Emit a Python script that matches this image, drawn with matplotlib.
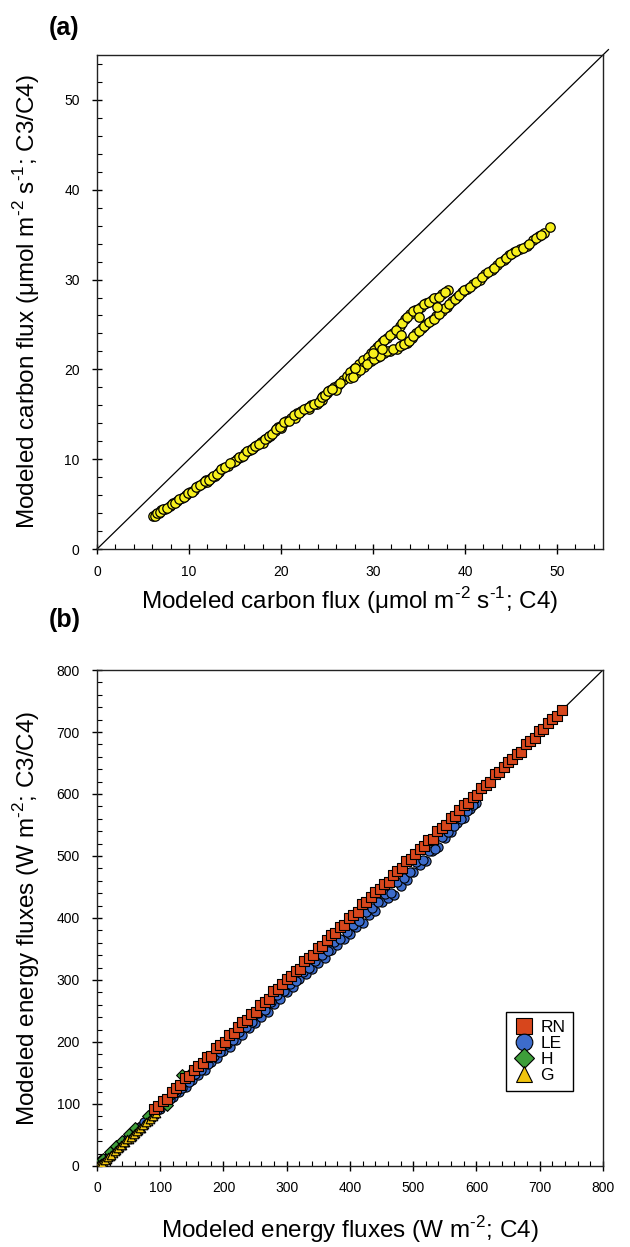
import matplotlib
matplotlib.use("Agg")
import matplotlib.pyplot as plt
from matplotlib.ticker import MultipleLocator
from matplotlib.lines import Line2D

plt.rcParams["font.family"] = ["Liberation Sans", "DejaVu Sans"]
plt.rcParams["mathtext.fontset"] = "custom"
plt.rcParams["mathtext.rm"] = "Liberation Sans"

# (a) modeled carbon flux, C4 vs C3/C4
carbon_c4 = [6.1, 6.4, 6.7, 7.0, 7.4, 7.9, 8.3, 8.7, 9.2, 9.7, 10.1, 10.5, 11.0, 11.5,
             11.9, 12.4, 12.8, 13.3, 13.7, 14.2, 14.8, 15.2, 15.7, 16.1, 16.6, 17.0,
             17.4, 17.8, 18.1, 18.5, 18.8, 19.3, 19.7, 20.1, 20.6, 21.1, 21.7, 22.2,
             22.8, 23.3, 23.9, 24.3, 24.6, 25.0, 25.3, 25.8, 26.2, 26.7,
             12.0, 15.0, 18.0, 20.0, 21.5, 23.0, 24.5, 26.0,
             6.25, 6.55, 6.85, 7.2, 7.65, 8.1, 8.5, 8.95, 9.45, 9.9, 10.3, 10.75,
             11.25, 11.7, 12.15, 12.6, 13.05, 13.5, 13.95, 14.5, 15.45, 15.9, 16.35,
             16.8, 17.2, 17.6, 18.3, 18.65, 19.05, 19.5, 19.9, 20.35, 20.85, 21.4,
             21.95, 22.5, 23.05, 23.6, 24.1, 24.45, 24.8, 25.15, 25.55, 26.45,
             27.2, 27.8, 28.5, 29.3, 29.8, 30.4, 31.0, 31.5, 32.2, 32.9, 33.5, 34.0,
             34.6, 35.2, 35.8, 36.4, 36.9, 37.5, 38.2,
             27.5, 28.1, 28.9, 29.5, 30.1, 30.7, 31.2, 31.8, 32.5, 33.2, 33.7, 34.3,
             34.9, 35.5, 36.1, 36.6, 37.2, 37.8,
             27.5, 28.2, 29.0, 29.8, 30.5, 31.2, 31.9, 32.6, 33.2, 33.7, 34.2, 34.7,
             35.3, 35.8, 36.4, 36.9, 37.5, 38.0, 38.6, 39.1, 39.7, 40.2, 40.9, 41.6,
             42.2, 42.9, 43.5, 44.2, 44.8, 45.3, 46.0, 46.7, 47.4, 48.0, 48.6, 49.2,
             27.8, 28.6, 29.4, 30.1, 30.8, 31.5, 32.2, 32.9, 33.4, 33.9, 34.4, 35.0,
             35.5, 36.1, 36.6, 37.2, 37.8, 38.3, 38.9, 39.4, 39.9, 40.5, 41.2, 41.9,
             42.5, 43.2, 43.8, 44.5, 45.0, 45.6, 46.3, 47.0, 47.7, 48.3,
             31.0, 33.0, 35.0, 37.0, 30.0, 28.0]
carbon_c3c4 = [3.7, 3.9, 4.0, 4.3, 4.5, 4.8, 5.1, 5.3, 5.7, 6.0, 6.3, 6.6, 7.0, 7.3,
               7.7, 7.9, 8.1, 8.6, 9.0, 9.3, 9.7, 10.0, 10.3, 10.7, 11.0, 11.3,
               11.6, 11.9, 12.1, 12.4, 12.6, 13.1, 13.6, 13.8, 14.2, 14.6, 15.1, 15.4,
               15.7, 16.0, 16.2, 16.7, 17.0, 17.4, 17.7, 18.0, 18.3, 18.8,
               7.5, 9.8, 11.8, 13.5, 14.6, 15.6, 16.6, 17.7,
               3.7, 4.0, 4.1, 4.5, 4.6, 5.0, 5.1, 5.6, 5.8, 6.2, 6.4, 6.9,
               7.1, 7.6, 7.7, 8.1, 8.3, 8.9, 9.1, 9.6, 10.2, 10.4, 10.9,
               11.1, 11.5, 11.7, 12.2, 12.6, 12.8, 13.4, 13.6, 14.1, 14.3, 14.9,
               15.2, 15.6, 15.8, 16.2, 16.4, 16.9, 17.1, 17.6, 17.8, 18.5,
               19.3, 19.9, 20.6, 21.2, 21.8, 22.5, 23.0, 23.5, 24.1, 24.8, 25.6, 26.2,
               26.6, 27.0, 27.4, 27.7, 27.9, 28.4, 28.8,
               19.7, 20.2, 21.0, 21.4, 22.2, 22.7, 23.3, 23.8, 24.4, 25.2, 25.8, 26.5,
               26.7, 27.3, 27.5, 27.9, 28.1, 28.6,
               19.0, 19.6, 20.3, 20.9, 21.4, 21.8, 22.1, 22.3, 22.7, 22.9, 23.5, 24.0,
               24.6, 25.1, 25.5, 25.9, 26.5, 27.0, 27.6, 28.1, 28.6, 29.0, 29.5, 30.0,
               30.6, 31.1, 31.6, 32.2, 32.7, 33.1, 33.4, 33.7, 34.4, 34.8, 35.2, 35.9,
               19.2, 19.9, 20.6, 21.2, 21.5, 22.0, 22.3, 22.6, 22.8, 23.2, 23.7, 24.3,
               24.8, 25.3, 25.6, 26.2, 26.8, 27.3, 27.8, 28.3, 28.8, 29.2, 29.7, 30.3,
               30.8, 31.3, 31.9, 32.4, 32.9, 33.2, 33.5, 34.0, 34.6, 35.0,
               22.3, 23.8, 25.8, 27.0, 21.8, 20.2]

# (b) modeled energy fluxes
rn_c4 = [90, 97, 104, 111, 118, 125, 132, 139, 146, 153, 160, 167, 174, 181, 188, 195,
         202, 209, 216, 223, 230, 237, 244, 251, 258, 265, 272, 279, 286, 293, 300,
         307, 314, 321, 328, 335, 342, 349, 356, 363, 370, 377, 384, 391, 398, 405,
         412, 419, 426, 433, 440, 447, 454, 461, 468, 475, 482, 489, 496, 503, 510,
         517, 524, 531, 538, 545, 552, 559, 566, 573, 580, 587, 594, 601, 608, 615,
         622, 629, 636, 643, 650, 657, 664, 671, 678, 685, 692, 699, 706, 713, 720,
         727, 735]
rn_c3c4 = [92, 96, 105, 108, 120, 125, 130, 142, 145, 154, 162, 166, 175, 178, 190, 195,
           200, 212, 215, 224, 232, 236, 245, 248, 260, 265, 270, 282, 285, 294, 302,
           306, 315, 318, 330, 335, 340, 352, 355, 364, 372, 376, 385, 388, 400, 405,
           410, 422, 425, 434, 442, 446, 455, 458, 470, 475, 480, 492, 495, 504, 512,
           516, 525, 528, 540, 545, 550, 562, 565, 574, 582, 586, 595, 598, 610, 615,
           620, 632, 635, 644, 652, 656, 665, 668, 680, 685, 690, 702, 705, 714, 721,
           726, 736]
le_c4 = [0, 5, 10, 20, 30, 40, 50, 60, 70, 80, 90, 100, 110, 120, 130, 140, 150, 160,
         170, 180, 190, 200, 210, 220, 230, 240, 250, 260, 270, 280, 290, 300, 310,
         320, 330, 340, 350, 360, 370, 380, 390, 400, 410, 420, 430, 440, 450, 460,
         470, 480, 490, 500, 510, 520, 530, 540, 550, 560, 570, 580, 590, 600,
         150, 200, 250, 300, 350, 400, 450, 500, 550,
         105, 115, 125, 135, 145, 155, 165, 175, 185, 195, 205, 215, 225, 235, 245,
         255, 265, 275, 285, 295, 305, 315, 325, 335, 345, 355, 365, 375, 385, 395,
         405, 415, 425, 435, 445, 455, 465, 475, 485, 495, 505, 515, 525, 535, 545,
         555, 565, 575, 585, 595,
         2, 8, 15, 25, 35, 45, 55, 65, 75, 85, 95]
le_c3c4 = [2, 4, 8, 17, 27, 36, 46, 55, 64, 74, 83, 92, 101, 111, 120, 127, 138, 146,
           155, 167, 174, 185, 192, 203, 211, 222, 230, 241, 248, 262, 270, 281, 288,
           301, 309, 318, 327, 336, 349, 356, 366, 374, 385, 392, 404, 411, 425, 432,
           437, 452, 462, 474, 485, 492, 508, 515, 529, 538, 553, 561, 575, 586,
           147, 197, 247, 297, 346, 396, 447, 497, 547,
           100, 108, 119, 126, 136, 148, 155, 165, 177, 184, 197, 203, 216, 224, 233,
           246, 252, 264, 275, 283, 294, 299, 313, 320, 331, 341, 347, 361, 366, 378,
           389, 395, 410, 416, 426, 438, 441, 458, 465, 474, 490, 493, 508, 512, 530,
           538, 548, 559, 572, 583,
           1, 6, 13, 22, 32, 42, 51, 61, 71, 81, 90]
h_c4 = [0, 5, 10, 20, 30, 40, 50, 60, 80, 100, 110, 120, 134, 150]
h_c3c4 = [3, 8, 12, 22, 32, 41, 52, 62, 81, 99, 98, 118, 147, 152]
g_c4 = [0, 3, 6, 10, 15, 20, 25, 30, 35, 40, 45, 50, 55, 60, 65, 70, 75, 80, 86, 90,
        2, 5, 8, 12, 18, 22, 28, 33, 38, 43, 48, 53, 58, 63, 68, 73, 78, 83, 88, 93]
g_c3c4 = [0, 1, 4, 7, 11, 16, 21, 25, 30, 34, 39, 44, 48, 53, 58, 62, 67, 72, 79, 84,
          1, 3, 5, 9, 14, 18, 24, 29, 33, 38, 43, 47, 52, 57, 62, 66, 71, 76, 81, 86]

fig = plt.figure(figsize=(6.3, 12.47), dpi=100)
ax1 = fig.add_axes([0.154, 0.5597, 0.803, 0.3962])
ax2 = fig.add_axes([0.154, 0.065, 0.803, 0.3977])


def style_axis(ax, major, minor, xpad, ypad):
    ax.xaxis.set_major_locator(MultipleLocator(major))
    ax.xaxis.set_minor_locator(MultipleLocator(minor))
    ax.yaxis.set_major_locator(MultipleLocator(major))
    ax.yaxis.set_minor_locator(MultipleLocator(minor))
    ax.tick_params(which="major", direction="inout", length=7, width=1, labelsize=10,
                   top=False, right=False)
    ax.tick_params(axis="x", which="major", pad=xpad)
    ax.tick_params(axis="y", which="major", pad=ypad)
    ax.tick_params(which="minor", direction="in", length=3.5, width=0.8,
                   top=False, right=False)
    for sp in ax.spines.values():
        sp.set_linewidth(1)
        sp.set_color("#222222")


sup2 = "$^{\\text{-2}}$"
sup1 = "$^{\\text{-1}}$"

# panel (a)
ax1.plot([0, 55.6], [0, 55.6], color="black", lw=0.9, clip_on=False, zorder=1)
ax1.scatter(carbon_c4, carbon_c3c4, s=46, c="#F7F01C", edgecolors="black",
            linewidths=0.9, zorder=3)
ax1.set_xlim(0, 55)
ax1.set_ylim(0, 55)
style_axis(ax1, 10, 2, 8, 9)
ax1.set_xlabel("Modeled carbon flux (μmol m" + sup2 + " s" + sup1 + "; C4)", fontsize=17.5)
ax1.set_ylabel("Modeled carbon flux (μmol m" + sup2 + " s" + sup1 + "; C3/C4)", fontsize=17.5)
ax1.xaxis.set_label_coords(0.5, -0.072)
ax1.yaxis.set_label_coords(-0.108, 0.5)
fig.text(0.078, 0.968, "(a)", fontsize=18, fontweight="bold", va="bottom")

# panel (b)
ax2.plot([0, 800], [0, 800], color="black", lw=0.9, zorder=1)
ax2.scatter(le_c4, le_c3c4, s=44, marker="o", c="#3D6CCB", edgecolors="black",
            linewidths=0.8, zorder=2)
ax2.scatter(h_c4, h_c3c4, s=36, marker="D", c="#3E9E3A", edgecolors="black",
            linewidths=0.8, zorder=3)
ax2.scatter(g_c4, g_c3c4, s=38, marker="^", c="#F1C40F", edgecolors="black",
            linewidths=0.8, zorder=4)
ax2.scatter(rn_c4, rn_c3c4, s=42, marker="s", c="#D7461C", edgecolors="black",
            linewidths=0.8, zorder=5)
ax2.set_xlim(0, 800)
ax2.set_ylim(0, 800)
style_axis(ax2, 100, 20, 7, 9)
ax2.set_xlabel("Modeled energy fluxes (W m" + sup2 + "; C4)", fontsize=17.5)
ax2.set_ylabel("Modeled energy fluxes (W m" + sup2 + "; C3/C4)", fontsize=17.5)
ax2.xaxis.set_label_coords(0.5, -0.098)
ax2.yaxis.set_label_coords(-0.108, 0.5)
fig.text(0.078, 0.4935, "(b)", fontsize=18, fontweight="bold", va="bottom")

handles = [
    Line2D([], [], ls="none", marker="s", ms=11, mfc="#D7461C", mec="black", mew=0.8),
    Line2D([], [], ls="none", marker="o", ms=12, mfc="#3D6CCB", mec="black", mew=0.8),
    Line2D([], [], ls="none", marker="D", ms=10, mfc="#3E9E3A", mec="black", mew=0.8),
    Line2D([], [], ls="none", marker="^", ms=11, mfc="#F1C40F", mec="black", mew=0.8),
]
leg = ax2.legend(handles, ["RN", "LE", "H", "G"], loc="lower right",
                 bbox_to_anchor=(0.941, 0.151), fontsize=12.5, frameon=True,
                 fancybox=False, edgecolor="black", framealpha=1,
                 handlelength=1.2, handletextpad=0.35, labelspacing=0.05,
                 borderpad=0.45, borderaxespad=0)
leg.get_frame().set_linewidth(1)

fig.savefig("out.png", dpi=100)
